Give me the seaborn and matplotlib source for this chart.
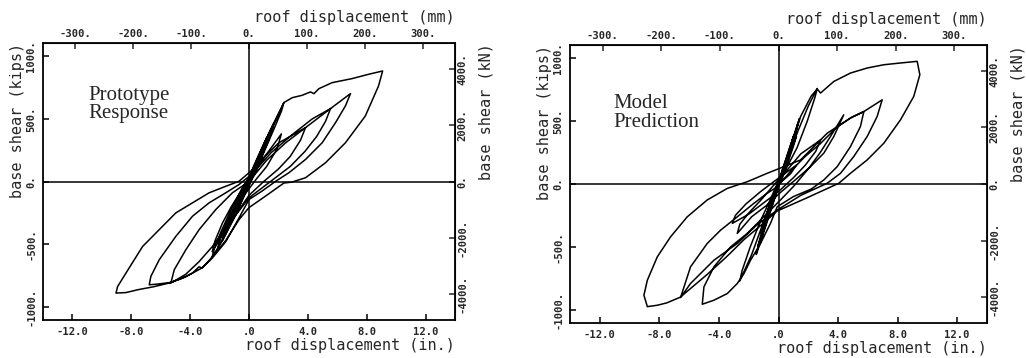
import numpy as np
import pandas as pd
import matplotlib
matplotlib.use("Agg")
import matplotlib.pyplot as plt
import seaborn as sns

# ---------------- data ----------------
# Prototype response: roof displacement (in.) and base shear (kips), in path order
proto_disp = [0, 0.4, 0.8, 0.6, 0, -0.4, -0.8, -0.6, 0,
              0.6, 1.2, 1.0, 0.3, -0.5, -1.2, -1.0, -0.3,
              0.5, 1.3, 1.9, 2.37, 2.2, 1.7, 1.0, 0.4, -0.3, -1.0, -1.8, -2.5, -2.35, -1.9, -1.2, -0.5,
              0.3, 0.9, 1.5, 2.0, 2.37,
              2.94, 3.61, 4.18, 4.41, 4.75, 5.65, 7.0, 8.14, 9.08,
              8.8, 7.9, 6.55, 5.2, 3.84, 2.9, 2.37, 1.2, 0, -0.68, -1.58, -2.49, -2.94, -3.2, -3.39, -3.84,
              -4.6, -5.5, -6.5, -7.5, -8.36, -9.04,
              -8.93, -8.36, -7.23, -6.1, -4.97, -3.84, -2.71, -1.58, -0.68, 0.1, 0.8, 2.03, 3.84, 5.54, 6.9,
              6.55, 5.88, 4.97, 3.84, 2.71, 1.81, 0.9, 0, -0.68, -1.58, -2.49, -3.2, -4.3, -5.3, -6.2, -6.78,
              -6.67, -6.1, -4.97, -3.84, -2.71, -1.58, -0.68, 0.2, 1.5, 3.0, 4.3, 5.54,
              5.2, 4.6, 3.8, 2.8, 1.9, 1.0, 0, -1.3, -2.5, -3.4, -4.3, -5.31,
              -5.08, -4.29, -3.39, -2.26, -1.13, 0, 1.2, 2.5, 3.84,
              3.5, 2.8, 2.0, 1.0, 0, -1.0, -1.8, -2.5, -2.3, -1.8, -1.2, -0.5, 0.3, 1.2, 2.2,
              1.9, 1.2, 0.5, -0.4, -1.2, -1.0, -0.4, 0.3, 0.8, 0.4, 0,
              0.3, 1.0, 1.7, 1.5, 0.8, 0, -0.8, -1.6, -2.1, -1.9, -1.2, -0.4,
              0.4, 1.1, 0.9, 0.2, -0.6, -1.4, -1.2, -0.5,
              0.2, 0.9, 1.5, 1.3, 0.6, -0.2, -1.0, -1.8, -1.6, -0.9, -0.1,
              0.6, 1.2, 1.0, 0.4, 0]
proto_shear = [0, 110, 220, 150, -10, -110, -220, -150, 0,
               170, 330, 250, 40, -150, -320, -240, -50,
               140, 370, 520, 630, 560, 420, 230, 70, -90, -270, -470, -600, -530, -400, -220, -60,
               90, 250, 410, 530, 630,
               669, 688, 715, 701, 741, 789, 821, 856, 882,
               762, 522, 309, 150, 30, -5, -12, -110, -208, -304, -470, -600, -660, -690, -680, -730,
               -775, -812, -840, -862, -886, -890,
               -838, -730, -518, -384, -250, -170, -90, -38, 2, 80, 170, 309, 430, 582, 702,
               603, 470, 309, 176, 70, 2, -75, -144, -290, -480, -610, -690, -760, -805, -818, -824,
               -757, -624, -437, -277, -170, -90, -24, 60, 230, 380, 500, 582,
               480, 360, 240, 120, 40, -40, -130, -330, -520, -640, -740, -810,
               -704, -544, -384, -224, -90, 0, 170, 310, 430,
               330, 200, 100, 0, -110, -280, -430, -560, -470, -330, -200, -70, 60, 220, 380,
               260, 120, 20, -120, -300, -200, -60, 80, 170, 60, 0,
               120, 300, 470, 380, 180, -30, -230, -420, -520, -430, -250, -60,
               130, 320, 240, 40, -170, -370, -290, -110,
               70, 260, 420, 330, 130, -80, -290, -470, -380, -200, -10,
               190, 350, 270, 90, 0]

# Model prediction: roof displacement (in.) and base shear (kips), in path order
model_disp = [0, 0.4, 0.8, 0.6, 0, -0.4, -0.8, -0.6, 0,
              0.6, 1.2, 1.0, 0.3, -0.5, -1.2, -1.0, -0.3,
              0.5, 1.3, 2.0, 2.6, 2.45, 1.93, 1.25, 0.58, -0.2, -1.0, -1.8, -2.6, -2.45, -1.9, -1.2, -0.5,
              0.13, 0.8, 1.48, 2.2, 2.6, 2.82, 3.71, 4.83, 5.95, 7.07, 8.19, 9.31,
              9.49, 9.08, 8.19, 7.07, 5.95, 4.83, 4.05, 2.0, -0.09, -1.2, -2.3, -3.5, -4.8, -5.9, -6.6,
              -7.5, -8.14, -8.81,
              -9.04, -8.81, -8.14, -7.25, -6.13, -4.79, -3.44, -2.1, -0.76, 0.4, 1.48, 3.27, 4.83, 5.73, 6.96,
              6.62, 5.95, 5.05, 4.16, 3.27, 1.5, -0.09, -1.5, -2.77, -4.34, -5.91, -6.58,
              -5.91, -4.79, -3.89, -2.77, -1.66, -0.76, -0.09, 0.8, 1.8, 2.8, 3.9, 4.9, 5.73,
              5.5, 4.83, 3.94, 3.04, 2.2, 1.0, -0.09, -0.54, -1.21, -1.88, -2.32, -2.77, -3.44, -4.34, -5.12,
              -5.01, -4.34, -3.22, -2.1, -0.76, 0.13, 1.0, 2.0, 2.8, 3.5, 4.38,
              3.71, 3.04, 2.15, 1.2, 0.2, -0.8, -1.8, -2.77,
              -2.6, -2.0, -1.2, -0.4, 0.5, 1.5, 2.82,
              2.5, 1.8, 1.0, 0, -1.0, -2.0, -3.1,
              -2.9, -2.2, -1.2, -0.3, 0.5, 1.2, 0.8, 0,
              0.3, 0.9, 1.4, 1.2, 0.6, 0, -0.6, -1.2, -1.5, -1.3, -0.8, -0.2,
              0.4, 1.0, 0.8, 0.2, -0.5, -1.1, -0.9, -0.3,
              0.3, 0.9, 1.3, 1.1, 0.5, -0.2, -0.9, -1.4, -1.2, -0.6, 0]
model_shear = [0, 120, 250, 170, 0, -120, -250, -170, 0,
               190, 380, 300, 60, -160, -390, -300, -70,
               160, 420, 620, 760, 690, 500, 290, 138, -40, -300, -560, -770, -690, -500, -290, -110,
               60, 280, 536, 700, 755, 723, 815, 882, 922, 948, 962, 975,
               869, 696, 510, 324, 191, 85, 6, -105, -215, -330, -440, -580, -720, -830, -900,
               -945, -964, -975,
               -884, -765, -579, -420, -261, -127, -35, 18, 85, 140, 191, 404, 524, 576, 669,
               536, 377, 218, 85, 6, -90, -207, -330, -473, -606, -791, -903,
               -659, -473, -367, -261, -154, -74, -22, 100, 220, 320, 450, 530, 576,
               457, 297, 138, 32, -40, -100, -181, -313, -473, -606, -712, -791, -871, -924, -956,
               -818, -659, -500, -393, -233, -127, -20, 120, 250, 380, 550,
               377, 245, 138, 40, -60, -170, -260, -393,
               -320, -230, -130, -20, 100, 240, 350,
               260, 150, 50, -60, -150, -240, -313,
               -250, -160, -60, 20, 90, 150, 80, 0,
               130, 340, 520, 430, 200, -20, -240, -460, -560, -470, -280, -50,
               160, 380, 290, 60, -190, -410, -320, -110,
               110, 330, 480, 390, 170, -90, -330, -500, -410, -210, 0]

x_ticks = [-12.0, -8.0, -4.0, 0.0, 4.0, 8.0, 12.0]
x_ticklabels = ["-12.0", "-8.0", "-4.0", ".0", "4.0", "8.0", "12.0"]
mm_ticks = [-300, -200, -100, 0, 100, 200, 300]
mm_ticklabels = ["-300.", "-200.", "-100.", "0.", "100.", "200.", "300."]
y_ticks = [-1000, -500, 0, 500, 1000]
y_ticklabels = ["-1000.", "-500.", "0.", "500.", "1000."]
kn_ticks = [-4000, -2000, 0, 2000, 4000]
kn_ticklabels = ["-4000.", "-2000.", "0.", "2000.", "4000."]

panel_titles = ["Prototype\nResponse", "Model\nPrediction"]

IN_TO_MM = 25.4
KIP_TO_KN = 4.448

# ---------------- style ----------------
sns.set_style("ticks")
plt.rcParams["font.family"] = ["DejaVu Sans Mono"]

fig = plt.figure(figsize=(10.26, 3.58), dpi=100)
ax_rects = [[0.0419, 0.1061, 0.4016, 0.7737], [0.5556, 0.0978, 0.4064, 0.7765]]
text_pos = [(-10.9, 762), (-11.1, 712)]
series = [(proto_disp, proto_shear), (model_disp, model_shear)]

mono = "DejaVu Sans Mono"
tick_kw = dict(fontsize=7.6, fontweight="bold", family=mono)
lab_kw = dict(fontsize=11, family=mono)

for i, (rect, (dx, dy)) in enumerate(zip(ax_rects, series)):
    ax = fig.add_axes(rect)
    df = pd.DataFrame({"disp": dx, "shear": dy})
    sns.lineplot(data=df, x="disp", y="shear", sort=False, estimator=None,
                 color="black", linewidth=1.1, ax=ax)
    ax.axhline(0, color="black", linewidth=1.1)
    ax.axvline(0, color="black", linewidth=1.1)
    ax.set_xlim(-14, 14)
    ax.set_ylim(-1105, 1105)

    for s in ax.spines.values():
        s.set_visible(True)
        s.set_linewidth(1.3)
        s.set_color("black")

    ax.set_xticks(x_ticks)
    ax.set_xticklabels(x_ticklabels, **tick_kw)
    ax.set_yticks(y_ticks)
    ax.set_yticklabels(y_ticklabels, rotation=90, va="center", **tick_kw)
    ax.tick_params(axis="both", direction="in", length=4, width=1.1, color="black", pad=5)
    ax.set_xlabel("roof displacement (in.)", loc="right", labelpad=1, **lab_kw)
    ax.set_ylabel("base shear (kips)", loc="top", labelpad=1, **lab_kw)

    secx = ax.secondary_xaxis("top", functions=(lambda v: v * IN_TO_MM, lambda v: v / IN_TO_MM))
    secx.set_xticks(mm_ticks)
    secx.set_xticklabels(mm_ticklabels, **tick_kw)
    secx.tick_params(direction="in", length=4, width=1.1, pad=3)
    secx.set_xlabel("roof displacement (mm)", loc="right", labelpad=5, **lab_kw)

    secy = ax.secondary_yaxis("right", functions=(lambda v: v * KIP_TO_KN, lambda v: v / KIP_TO_KN))
    secy.set_yticks(kn_ticks)
    secy.set_yticklabels(kn_ticklabels, rotation=90, va="center", **tick_kw)
    secy.tick_params(direction="in", length=4, width=1.1, pad=2)
    secy.set_ylabel("base shear (kN)", loc="top", labelpad=8, **lab_kw)

    tx, ty = text_pos[i]
    ax.text(tx, ty, panel_titles[i], family="Liberation Serif", fontsize=15,
            ha="left", va="top", linespacing=0.95)

fig.savefig("out.png", dpi=100)
